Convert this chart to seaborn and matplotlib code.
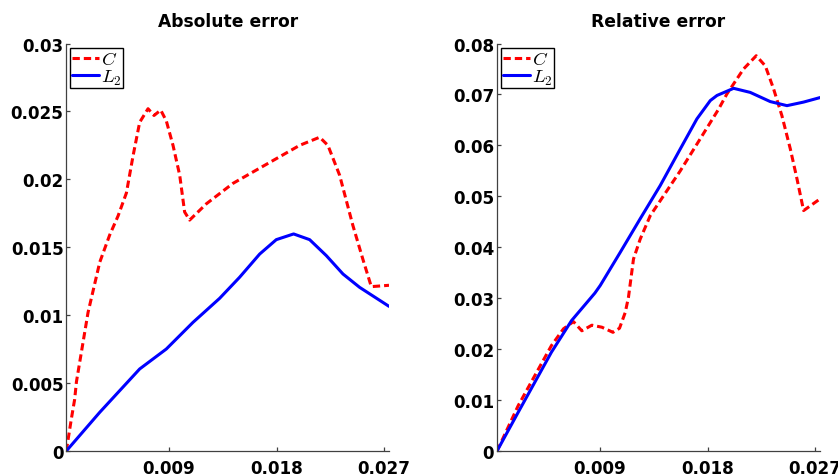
import numpy as np
import pandas as pd
import matplotlib
matplotlib.use("Agg")
import matplotlib.pyplot as plt
import seaborn as sns

sns.set_theme(style="ticks")
plt.rcParams['font.family'] = ['DejaVu Sans']
plt.rcParams['mathtext.fontset'] = 'cm'
plt.rcParams['text.color'] = 'black'

#%% Dados lidos do grafico
# erro absoluto
abs_c_t = [0.0004, 0.00083, 0.0011, 0.00125, 0.00222, 0.0032, 0.00403, 0.00473, 0.00543,
           0.00598, 0.00654, 0.00724, 0.00774, 0.0083, 0.00877, 0.00933, 0.00989, 0.0103,
           0.01072, 0.01212, 0.01434, 0.01713, 0.01992, 0.0216, 0.02229, 0.02327, 0.02438,
           0.02522, 0.02592, 0.0274]
abs_c_err = [0, 0.0024, 0.0038, 0.0051, 0.0102, 0.0139, 0.0159, 0.0173, 0.0190,
             0.0217, 0.0242, 0.0252, 0.0247, 0.0251, 0.0243, 0.0225, 0.0203, 0.0176,
             0.0170, 0.0182, 0.0197, 0.0211, 0.0225, 0.0231, 0.0225, 0.0203, 0.0166,
             0.0141, 0.0121, 0.0122]
abs_l2_t = [0.0004, 0.0032, 0.00654, 0.00877, 0.011, 0.01323, 0.0149, 0.01658, 0.01797,
            0.01942, 0.02076, 0.02216, 0.02355, 0.02494, 0.0274]
abs_l2_err = [0, 0.00285, 0.00604, 0.00751, 0.00947, 0.01124, 0.01279, 0.0145, 0.01556,
              0.01598, 0.01556, 0.01438, 0.01303, 0.01205, 0.01065]

# erro relativo
rel_c_t = [0.0004, 0.00217, 0.00495, 0.00596, 0.00679, 0.00749, 0.00833, 0.00917, 0.01009,
           0.01064, 0.01112, 0.01139, 0.01181, 0.01237, 0.01321, 0.01432, 0.01572, 0.01739,
           0.01892, 0.01962, 0.02101, 0.02207, 0.02283, 0.02352, 0.02422, 0.02492, 0.02548,
           0.02603, 0.02729]
rel_c_err = [0, 0.0089, 0.0207, 0.0240, 0.0254, 0.0236, 0.0247, 0.0243, 0.0233,
             0.0241, 0.0272, 0.0302, 0.0377, 0.0416, 0.0462, 0.0501, 0.0550, 0.0613,
             0.0671, 0.0701, 0.0750, 0.0776, 0.0756, 0.0711, 0.0658, 0.0593, 0.0534,
             0.0472, 0.0493]
rel_l2_t = [0.0004, 0.00217, 0.00495, 0.00663, 0.00858, 0.00903, 0.0107, 0.01237, 0.01404,
            0.01572, 0.01711, 0.01823, 0.01879, 0.02018, 0.02157, 0.02324, 0.02464, 0.02603,
            0.02743]
rel_l2_err = [0, 0.0076, 0.0194, 0.0256, 0.0310, 0.0325, 0.0390, 0.0456, 0.0521,
              0.0593, 0.0652, 0.0688, 0.0698, 0.0712, 0.0704, 0.0686, 0.0678, 0.0685,
              0.0694]

series = ['$C$', '$L_2$']
titles = ["Absolute error", "Relative error"]
xticks = [0.009, 0.018, 0.027]
xticklabels = ['0.009', '0.018', '0.027']
abs_yticks = [0, 0.005, 0.01, 0.015, 0.02, 0.025, 0.03]
abs_yticklabels = ['0', '0.005', '0.01', '0.015', '0.02', '0.025', '0.03']
rel_yticks = [0, 0.01, 0.02, 0.03, 0.04, 0.05, 0.06, 0.07, 0.08]
rel_yticklabels = ['0', '0.01', '0.02', '0.03', '0.04', '0.05', '0.06', '0.07', '0.08']


def monta_df(tc, ec, tl, el):
    d1 = pd.DataFrame({'t': tc, 'err': ec, 'serie': series[0]})
    d2 = pd.DataFrame({'t': tl, 'err': el, 'serie': series[1]})
    return pd.concat([d1, d2], ignore_index=True)


df_abs = monta_df(abs_c_t, abs_c_err, abs_l2_t, abs_l2_err)
df_rel = monta_df(rel_c_t, rel_c_err, rel_l2_t, rel_l2_err)

cores = {series[0]: 'red', series[1]: 'blue'}
tracos = {series[0]: (2.4, 1.3), series[1]: ''}

#%% Figura
fig = plt.figure(figsize=(8.38, 4.77), dpi=100)
ax1 = fig.add_axes([0.0791, 0.0524, 0.3851, 0.8543])
ax2 = fig.add_axes([0.5931, 0.0524, 0.3854, 0.8543])

config = [(ax1, df_abs, titles[0], abs_yticks, abs_yticklabels),
          (ax2, df_rel, titles[1], rel_yticks, rel_yticklabels)]

for ax, df, title, yt, ytl in config:
    sns.lineplot(data=df, x='t', y='err', hue='serie', style='serie',
                 palette=cores, dashes=tracos, estimator=None, sort=False,
                 lw=2.2, ax=ax)
    ax.set_xlim(0.0004, 0.0274)
    ax.set_ylim(yt[0], yt[-1])
    ax.set_xticks(xticks, labels=xticklabels, fontweight='bold')
    ax.set_yticks(yt, labels=ytl, fontweight='bold')
    ax.set_xlabel("")
    ax.set_ylabel("")
    ax.set_title(title, fontsize=12.3, fontweight='bold', color='black', pad=12.5)
    sns.despine(ax=ax)
    for s in ['left', 'bottom']:
        ax.spines[s].set_color('#404040')
        ax.spines[s].set_linewidth(0.9)
    ax.tick_params(direction='in', length=3, width=0.9, color='#404040',
                   labelcolor='black', labelsize=12.1, pad=2)
    ax.tick_params(axis='x', pad=6)
    leg = ax.legend(loc='upper left', fontsize=13.5, frameon=True, fancybox=False,
                    framealpha=1, edgecolor='black', borderpad=0.08,
                    labelspacing=-0.08, handlelength=1.45, handletextpad=0.12,
                    borderaxespad=0.22)
    leg.get_frame().set_linewidth(1.0)

fig.savefig("out.png", dpi=100)
